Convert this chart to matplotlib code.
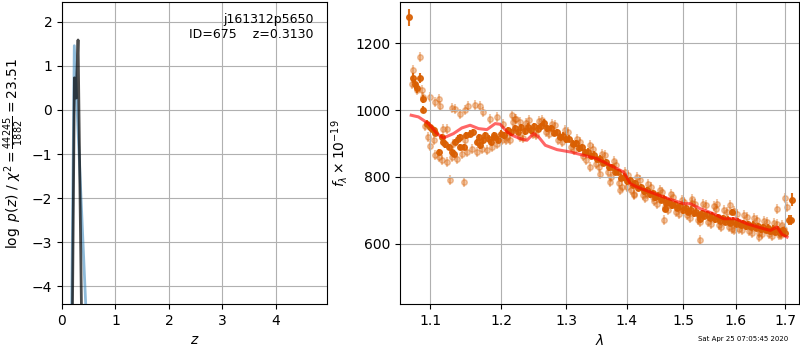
import matplotlib
matplotlib.use("Agg")
import matplotlib.pyplot as plt
from matplotlib.ticker import FixedLocator, NullLocator, FixedFormatter

# ---------------- left panel: log p(z) ----------------
z_prior = [0.18, 0.23, 0.45]
logp_prior = [-4.6, 1.46, -4.6]

z_fit = [0.195, 0.232, 0.264, 0.300, 0.365]
logp_fit = [-4.6, 0.73, 0.27, 1.59, -4.6]

# ---------------- right panel: spectrum ----------------
# dark (binned) points, blue end + outliers
wave_dark = [1.0720, 1.0764, 1.0800, 1.0822, 1.0866, 1.0910, 1.0902, 1.0956, 1.1023, 1.1068,
             1.1159, 1.1126, 1.1204, 1.1297, 1.1343, 1.1412, 1.1403, 1.1459, 1.1553, 1.1600,
             1.1672, 1.1743, 1.1816, 1.1889, 1.1000, 1.1050, 1.1180, 1.1250, 1.1320, 1.1380,
             1.1500, 1.1650, 1.1700, 1.1770, 1.1850,
             1.4676, 1.5323, 1.5929, 1.7076, 1.7133, 1.7148]
flux_dark = [1278, 1098, 1080, 1068, 1098, 1033, 1002, 960, 945, 933,
             920, 875, 898, 875, 905, 920, 890, 890, 930, 935,
             920, 910, 915, 920, 950, 940, 905, 890, 870, 915,
             925, 905, 895, 925, 905,
             705, 675, 695, 672, 672, 732]
err_dark = [25, 15, 15, 15, 15, 12, 10, 10, 10, 10,
            10, 10, 10, 10, 10, 10, 10, 10, 10, 10,
            10, 10, 10, 10, 10, 10, 10, 10, 10, 10,
            10, 10, 10, 10, 10,
            10, 10, 10, 15, 15, 20]

# dark points along the main band
wave_band = [1.190, 1.195, 1.200, 1.205, 1.210, 1.215, 1.220, 1.225, 1.230, 1.235,
             1.240, 1.245, 1.250, 1.255, 1.260, 1.265, 1.270, 1.275, 1.280, 1.285,
             1.290, 1.295, 1.300, 1.305, 1.310, 1.315, 1.320, 1.325, 1.330, 1.335,
             1.340, 1.345, 1.350, 1.355, 1.360, 1.365, 1.370, 1.375, 1.380, 1.385,
             1.390, 1.395, 1.400, 1.405, 1.410, 1.415, 1.420, 1.425, 1.430, 1.435,
             1.440, 1.445, 1.450, 1.455, 1.460, 1.465, 1.470, 1.475, 1.480, 1.485,
             1.490, 1.495, 1.500, 1.505, 1.510, 1.515, 1.520, 1.525, 1.530, 1.535,
             1.540, 1.545, 1.550, 1.555, 1.560, 1.565, 1.570, 1.575, 1.580, 1.585,
             1.590, 1.595, 1.600, 1.605, 1.610, 1.615, 1.620, 1.625, 1.630, 1.635,
             1.640, 1.645, 1.650, 1.655, 1.660, 1.665, 1.670, 1.675, 1.680, 1.685,
             1.690, 1.695, 1.700]
flux_band = [925, 912, 930, 925, 940, 934, 947, 935, 949, 937,
             951, 940, 952, 945, 952, 963, 946, 947, 932, 935,
             921, 924, 913, 915, 900, 901, 886, 889, 875, 876,
             863, 867, 854, 855, 842, 845, 829, 830, 815, 815,
             798, 801, 787, 790, 777, 781, 768, 770, 757, 761,
             748, 752, 739, 744, 731, 735, 721, 726, 715, 719,
             707, 712, 700, 706, 696, 702, 691, 696, 685, 692,
             683, 689, 678, 684, 673, 679, 669, 676, 666, 672,
             662, 669, 659, 666, 656, 662, 652, 659, 650, 657,
             647, 653, 643, 650, 641, 648, 638, 645, 635, 642,
             633, 640, 631]

# light (individual) points
wave_light = [1.0756, 1.0777, 1.0866, 1.0822, 1.0889, 1.0910, 1.1000, 1.1068, 1.1113, 1.1136,
              1.1297, 1.1343, 1.1412, 1.1483, 1.1529, 1.1624, 1.1696, 1.1743, 1.1840, 1.1938,
              1.2162, 1.2212, 1.2287,
              1.0933, 1.0977, 1.1000, 1.1068, 1.1113, 1.1159, 1.1228, 1.1297, 1.1366, 1.1436,
              1.1507, 1.1577, 1.1648, 1.1720, 1.1793, 1.1865, 1.1938, 1.2012, 1.2088, 1.1181,
              1.1228, 1.1264, 1.1469, 1.1045, 1.1319, 1.1483,
              1.3379, 1.3551, 1.3720, 1.3889, 1.4004, 1.4118,
              1.4350, 1.4467, 1.4648, 1.4766, 1.5168, 1.5323, 1.5638,
              1.5896, 1.5961, 1.6459, 1.6697, 1.6835, 1.7043, 1.7000, 1.6938]
flux_light = [1080, 1120, 1160, 1060, 1060, 1040, 1040, 1025, 1035, 1012,
              1007, 1005, 990, 1000, 1012, 1015, 1012, 995, 975, 980,
              985, 975, 965,
              952, 920, 892, 865, 860, 850, 845, 860, 855, 870,
              875, 885, 875, 885, 880, 890, 900, 910, 920, 945,
              945, 790, 785, 910, 900, 910,
              830, 810, 785, 760, 770, 745,
              750, 740, 670, 720, 735, 610, 720,
              715, 640, 620, 640, 705, 710, 736, 655]

wave_light2 = [1.2025, 1.2125, 1.2225, 1.2325, 1.2425, 1.2525, 1.2625, 1.2725, 1.2825, 1.2925,
               1.3025, 1.3125, 1.3225, 1.3325, 1.3425, 1.3525, 1.3625, 1.3725, 1.3825, 1.3925,
               1.4025, 1.4125, 1.4225, 1.4325, 1.4425, 1.4525, 1.4625, 1.4725, 1.4825, 1.4925,
               1.5025, 1.5125, 1.5225, 1.5325, 1.5425, 1.5525, 1.5625, 1.5725, 1.5825, 1.5925,
               1.6025, 1.6125, 1.6225, 1.6325, 1.6425, 1.6525, 1.6625, 1.6725, 1.6825, 1.6925]
flux_light2 = [958, 910, 975, 918, 970, 925, 972, 930, 955, 905,
               935, 880, 905, 850, 885, 830, 865, 800, 835, 770,
               805, 750, 790, 738, 770, 720, 755, 700, 740, 688,
               725, 678, 720, 665, 715, 660, 705, 650, 695, 645,
               690, 640, 680, 632, 672, 628, 665, 622, 660, 625]

wave_light3 = [1.2075, 1.2175, 1.2275, 1.2375, 1.2475, 1.2575, 1.2675, 1.2775, 1.2875, 1.2975,
               1.3075, 1.3175, 1.3275, 1.3375, 1.3475, 1.3575, 1.3675, 1.3775, 1.3875, 1.3975,
               1.4075, 1.4175, 1.4275, 1.4375, 1.4475, 1.4575, 1.4675, 1.4775, 1.4875, 1.4975,
               1.5075, 1.5175, 1.5275, 1.5375, 1.5475, 1.5575, 1.5675, 1.5775, 1.5875, 1.5975,
               1.6075, 1.6175, 1.6275, 1.6375, 1.6475, 1.6575, 1.6675, 1.6775, 1.6875, 1.6975]
flux_light3 = [912, 965, 920, 962, 928, 968, 935, 960, 912, 940,
               890, 915, 862, 895, 838, 870, 815, 848, 782, 815,
               760, 800, 745, 780, 728, 762, 710, 748, 695, 730,
               685, 722, 672, 718, 665, 712, 655, 700, 650, 698,
               645, 685, 638, 678, 632, 668, 628, 662, 625, 645]

# model
wave_model = [1.0747, 1.0843, 1.0977, 1.1091, 1.1181, 1.1319, 1.1436, 1.1553, 1.1672, 1.1793,
              1.1913, 1.1987, 1.2088, 1.2162, 1.2287, 1.2386, 1.2489, 1.2565, 1.2669, 1.2852,
              1.3064, 1.3279, 1.3498, 1.3720, 1.3946, 1.4061, 1.4177, 1.4410, 1.4648, 1.5012,
              1.5136, 1.5323, 1.5574, 1.5767, 1.5995, 1.6226, 1.6493, 1.6697, 1.6835, 1.6938,
              1.7043]
flux_model = [985, 980, 960, 930, 917, 930, 947, 955, 945, 942,
              960, 958, 935, 925, 915, 910, 930, 920, 895, 882,
              875, 865, 855, 835, 815, 780, 770, 755, 740, 720,
              720, 705, 690, 675, 675, 660, 648, 640, 650, 628,
              620]

xticks = [1.1, 1.2, 1.3, 1.4, 1.5, 1.6, 1.7]
xtick_labels = ["1.1", "1.2", "1.3", "1.4", "1.5", "1.6", "1.7"]
yticks_right = [600, 800, 1000, 1200]

orange = "#d95f02"

fig = plt.figure(figsize=(8, 3.5), dpi=100)
ax1 = fig.add_axes([0.0775, 0.131, 0.331, 0.863])
ax2 = fig.add_axes([0.5, 0.131, 0.499, 0.863])

ax1.plot(z_prior, logp_prior, color="#1f77b4", alpha=0.5, lw=2)
ax1.plot(z_fit, logp_fit, color="k", alpha=0.7, lw=2)
ax1.set_xlim(0, 4.95)
ax1.set_ylim(-4.41, 2.45)
ax1.grid(True)
ax1.set_xlabel(r"$z$")
ax1.set_ylabel(r"$\log\ p(z)$" + " / " + r"$\chi^2=\frac{44245}{1882}=23.51$")
ax1.text(0.95, 0.965, "j161312p5650\nID=675    z=0.3130", ha="right", va="top",
         transform=ax1.transAxes, fontsize=9)

for wl, fl in ((wave_light, flux_light), (wave_light2, flux_light2), (wave_light3, flux_light3)):
    ax2.errorbar(wl, fl, yerr=15, fmt="o", color=orange, alpha=0.35,
                 ms=4, elinewidth=1.5, capsize=0, zorder=1)
ax2.errorbar(wave_band, flux_band, yerr=10, fmt="o", color=orange, alpha=0.9,
             ms=4, elinewidth=1.5, capsize=0, zorder=2)
ax2.errorbar(wave_dark, flux_dark, yerr=err_dark, fmt="o", color=orange, alpha=0.9,
             ms=4, elinewidth=1.5, capsize=0, zorder=2)
ax2.plot(wave_model, flux_model, color="r", alpha=0.6, lw=2.2, zorder=3)
ax2.set_xscale("log")
ax2.set_xlim(1.06, 1.73)
ax2.set_ylim(419, 1324)
ax2.xaxis.set_major_locator(FixedLocator(xticks))
ax2.xaxis.set_major_formatter(FixedFormatter(xtick_labels))
ax2.xaxis.set_minor_locator(NullLocator())
ax2.set_yticks(yticks_right)
ax2.grid(True)
ax2.set_xlabel(r"$\lambda$")
ax2.set_ylabel(r"$f_\lambda\times10^{-19}$")

fig.text(0.985, 0.031, "Sat Apr 25 07:05:45 2020", ha="right", va="center", fontsize=5)

fig.savefig("out.png", dpi=100)
